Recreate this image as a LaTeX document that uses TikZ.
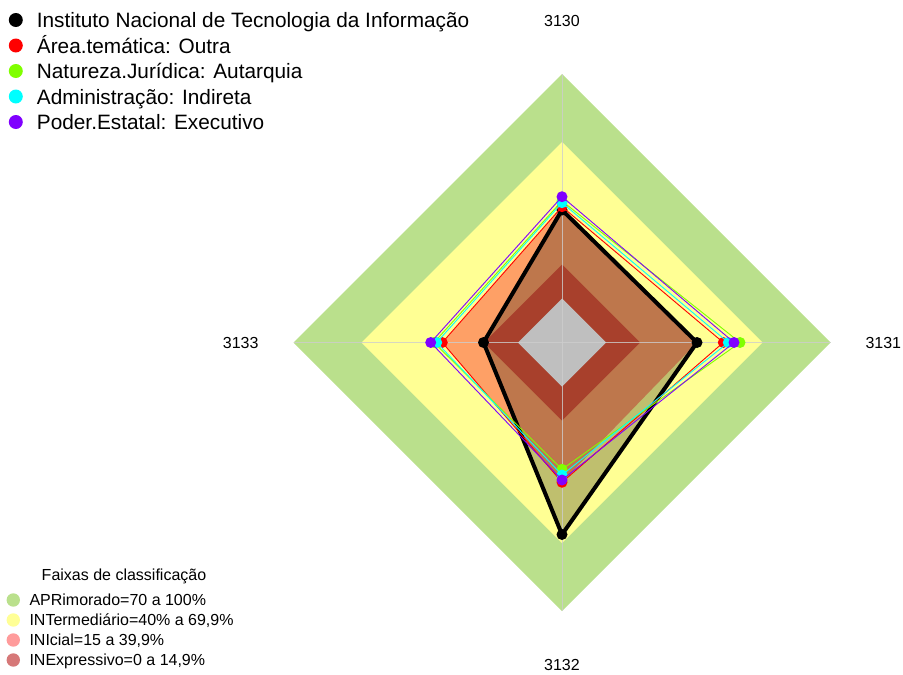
\documentclass[tikz,border=0pt]{standalone}
\usepackage{fontspec}
\setmainfont{Liberation Sans}
\definecolor{bandgreen}{RGB}{186,224,140}
\definecolor{bandyellow}{RGB}{255,255,148}
\definecolor{bandorange}{RGB}{254,160,102}
\definecolor{banddark}{RGB}{168,64,44}
\definecolor{bandgrey}{RGB}{191,191,191}
\definecolor{axisgrey}{RGB}{205,205,205}
\definecolor{serred}{RGB}{255,0,0}
\definecolor{sergreen}{RGB}{128,255,0}
\definecolor{sercyan}{RGB}{0,255,255}
\definecolor{serpurple}{RGB}{128,0,255}
\definecolor{legyellow}{RGB}{255,255,150}
\definecolor{legpink}{RGB}{255,155,155}
\definecolor{legdark}{RGB}{214,120,120}
\newcommand\rdiam[2]{\fill[#1] (562,342.5-#2) -- (562+#2,342.5) -- (562,342.5+#2) -- (562-#2,342.5) -- cycle;}
\begin{document}
\begin{tikzpicture}[x=1pt,y=-1pt,
  serline/.style={line width=0.9pt,line join=round},
  serdot/.style={fill=#1,draw=none},
  axisline/.style={draw=axisgrey,line width=1pt,opacity=0.8},
  bigleg/.style={font=\fontsize{20.8}{24}\selectfont,anchor=base west,inner sep=0pt},
  smallleg/.style={font=\fontsize{16}{19}\selectfont,anchor=base west,inner sep=0pt},
  axlabel/.style={font=\fontsize{16}{19}\selectfont,anchor=base,inner sep=0pt}]
\useasboundingbox (0,0) rectangle (903,675);
% bands
\rdiam{bandgreen}{268.5}
\rdiam{bandyellow}{200.5}
\fill[bandorange] (562,207) -- (697,342.5) -- (562,482) -- (442,342.5) -- cycle;
% black series fill
\coordinate (bt) at (562,210);
\coordinate (br) at (697,342.5);
\coordinate (bb) at (562,534.5);
\coordinate (bl) at (483.5,342.5);
\fill[black,opacity=0.25] (bt) -- (br) -- (bb) -- (bl) -- cycle;
\rdiam{banddark}{78}
\rdiam{bandgrey}{44}
% axes
\coordinate (C) at (562,342.5);
\coordinate (at) at (562,74);
\coordinate (ar) at (830.5,342.5);
\coordinate (ab) at (562,611);
\coordinate (al) at (293.5,342.5);
\foreach \p in {at,ar,ab,al} \draw[axisline] (C) -- (\p);
% black series line
\draw[line width=4pt,line join=miter] (bt) -- (br) -- (bb) -- (bl) -- cycle;
\foreach \p in {bt,br,bb,bl} \fill (\p) circle (5.5);
% red
\coordinate (rt) at (562,206.7);
\coordinate (rr) at (723.3,342.5);
\coordinate (rb) at (562,482.3);
\coordinate (rl) at (442.3,342.5);
\draw[serline,serred] (rt) -- (rr) -- (rb) -- (rl) -- cycle;
\foreach \p in {rt,rr,rb,rl} \fill[serdot=serred] (\p) circle (5.5);
% green
\coordinate (gt) at (562,201);
\coordinate (gr) at (740,342.5);
\coordinate (gb) at (562,469.3);
\coordinate (gl) at (434,342.5);
\draw[serline,sergreen] (gt) -- (gr) -- (gb) -- (gl) -- cycle;
\foreach \p in {gt,gr,gb,gl} \fill[serdot=sergreen] (\p) circle (5.5);
% cyan
\coordinate (ct) at (562,202.7);
\coordinate (cr) at (728.3,342.5);
\coordinate (cb) at (562,475);
\coordinate (cl) at (436.7,342.5);
\draw[serline,sercyan] (ct) -- (cr) -- (cb) -- (cl) -- cycle;
\foreach \p in {ct,cr,cb,cl} \fill[serdot=sercyan] (\p) circle (5.5);
% purple
\coordinate (pt) at (562,196.7);
\coordinate (pr) at (734,342.5);
\coordinate (pb) at (562,480);
\coordinate (pl) at (430.7,342.5);
\draw[serline,serpurple] (pt) -- (pr) -- (pb) -- (pl) -- cycle;
\foreach \p in {pt,pr,pb,pl} \fill[serdot=serpurple] (\p) circle (5.5);
% axis labels
\node[axlabel] (l3130) at (562,26.7) {3130};
\node[axlabel] (l3131) at (883.3,348) {3131};
\node[axlabel] (l3132) at (562,670) {3132};
\node[axlabel] (l3133) at (240.7,348) {3133};
% top legend
\fill[black] (15.8,20) circle (7);
\fill[serred] (15.8,45.5) circle (7);
\fill[sergreen] (15.8,71) circle (7);
\fill[sercyan] (15.8,96.5) circle (7);
\fill[serpurple] (15.8,122) circle (7);
\node[bigleg] (t1) at (36.7,27.5) {Instituto Nacional de Tecnologia da Informação};
\node[bigleg] (t2) at (36.7,53) {Área.temática: Outra};
\node[bigleg] (t3) at (36.7,78.5) {Natureza.Jurídica: Autarquia};
\node[bigleg] (t4) at (36.7,104) {Administração: Indireta};
\node[bigleg] (t5) at (36.7,129.5) {Poder.Estatal: Executivo};
% bottom legend
\node[font=\fontsize{16}{19}\selectfont,anchor=base,inner sep=0pt] (ftitle) at (124,580) {Faixas de classificação};
\fill[bandgreen] (13.3,600) circle (6.7);
\fill[legyellow] (13.3,620) circle (6.7);
\fill[legpink] (13.3,640) circle (6.7);
\fill[legdark] (13.3,660) circle (6.7);
\node[smallleg] (f1) at (29.3,605.7) {APRimorado=70 a 100\%};
\node[smallleg] (f2) at (29.3,625.7) {INTermediário=40\% a 69,9\%};
\node[smallleg] (f3) at (29.3,645.7) {INIcial=15 a 39,9\%};
\node[smallleg] (f4) at (29.3,665.7) {INExpressivo=0 a 14,9\%};
\end{tikzpicture}
\end{document}
